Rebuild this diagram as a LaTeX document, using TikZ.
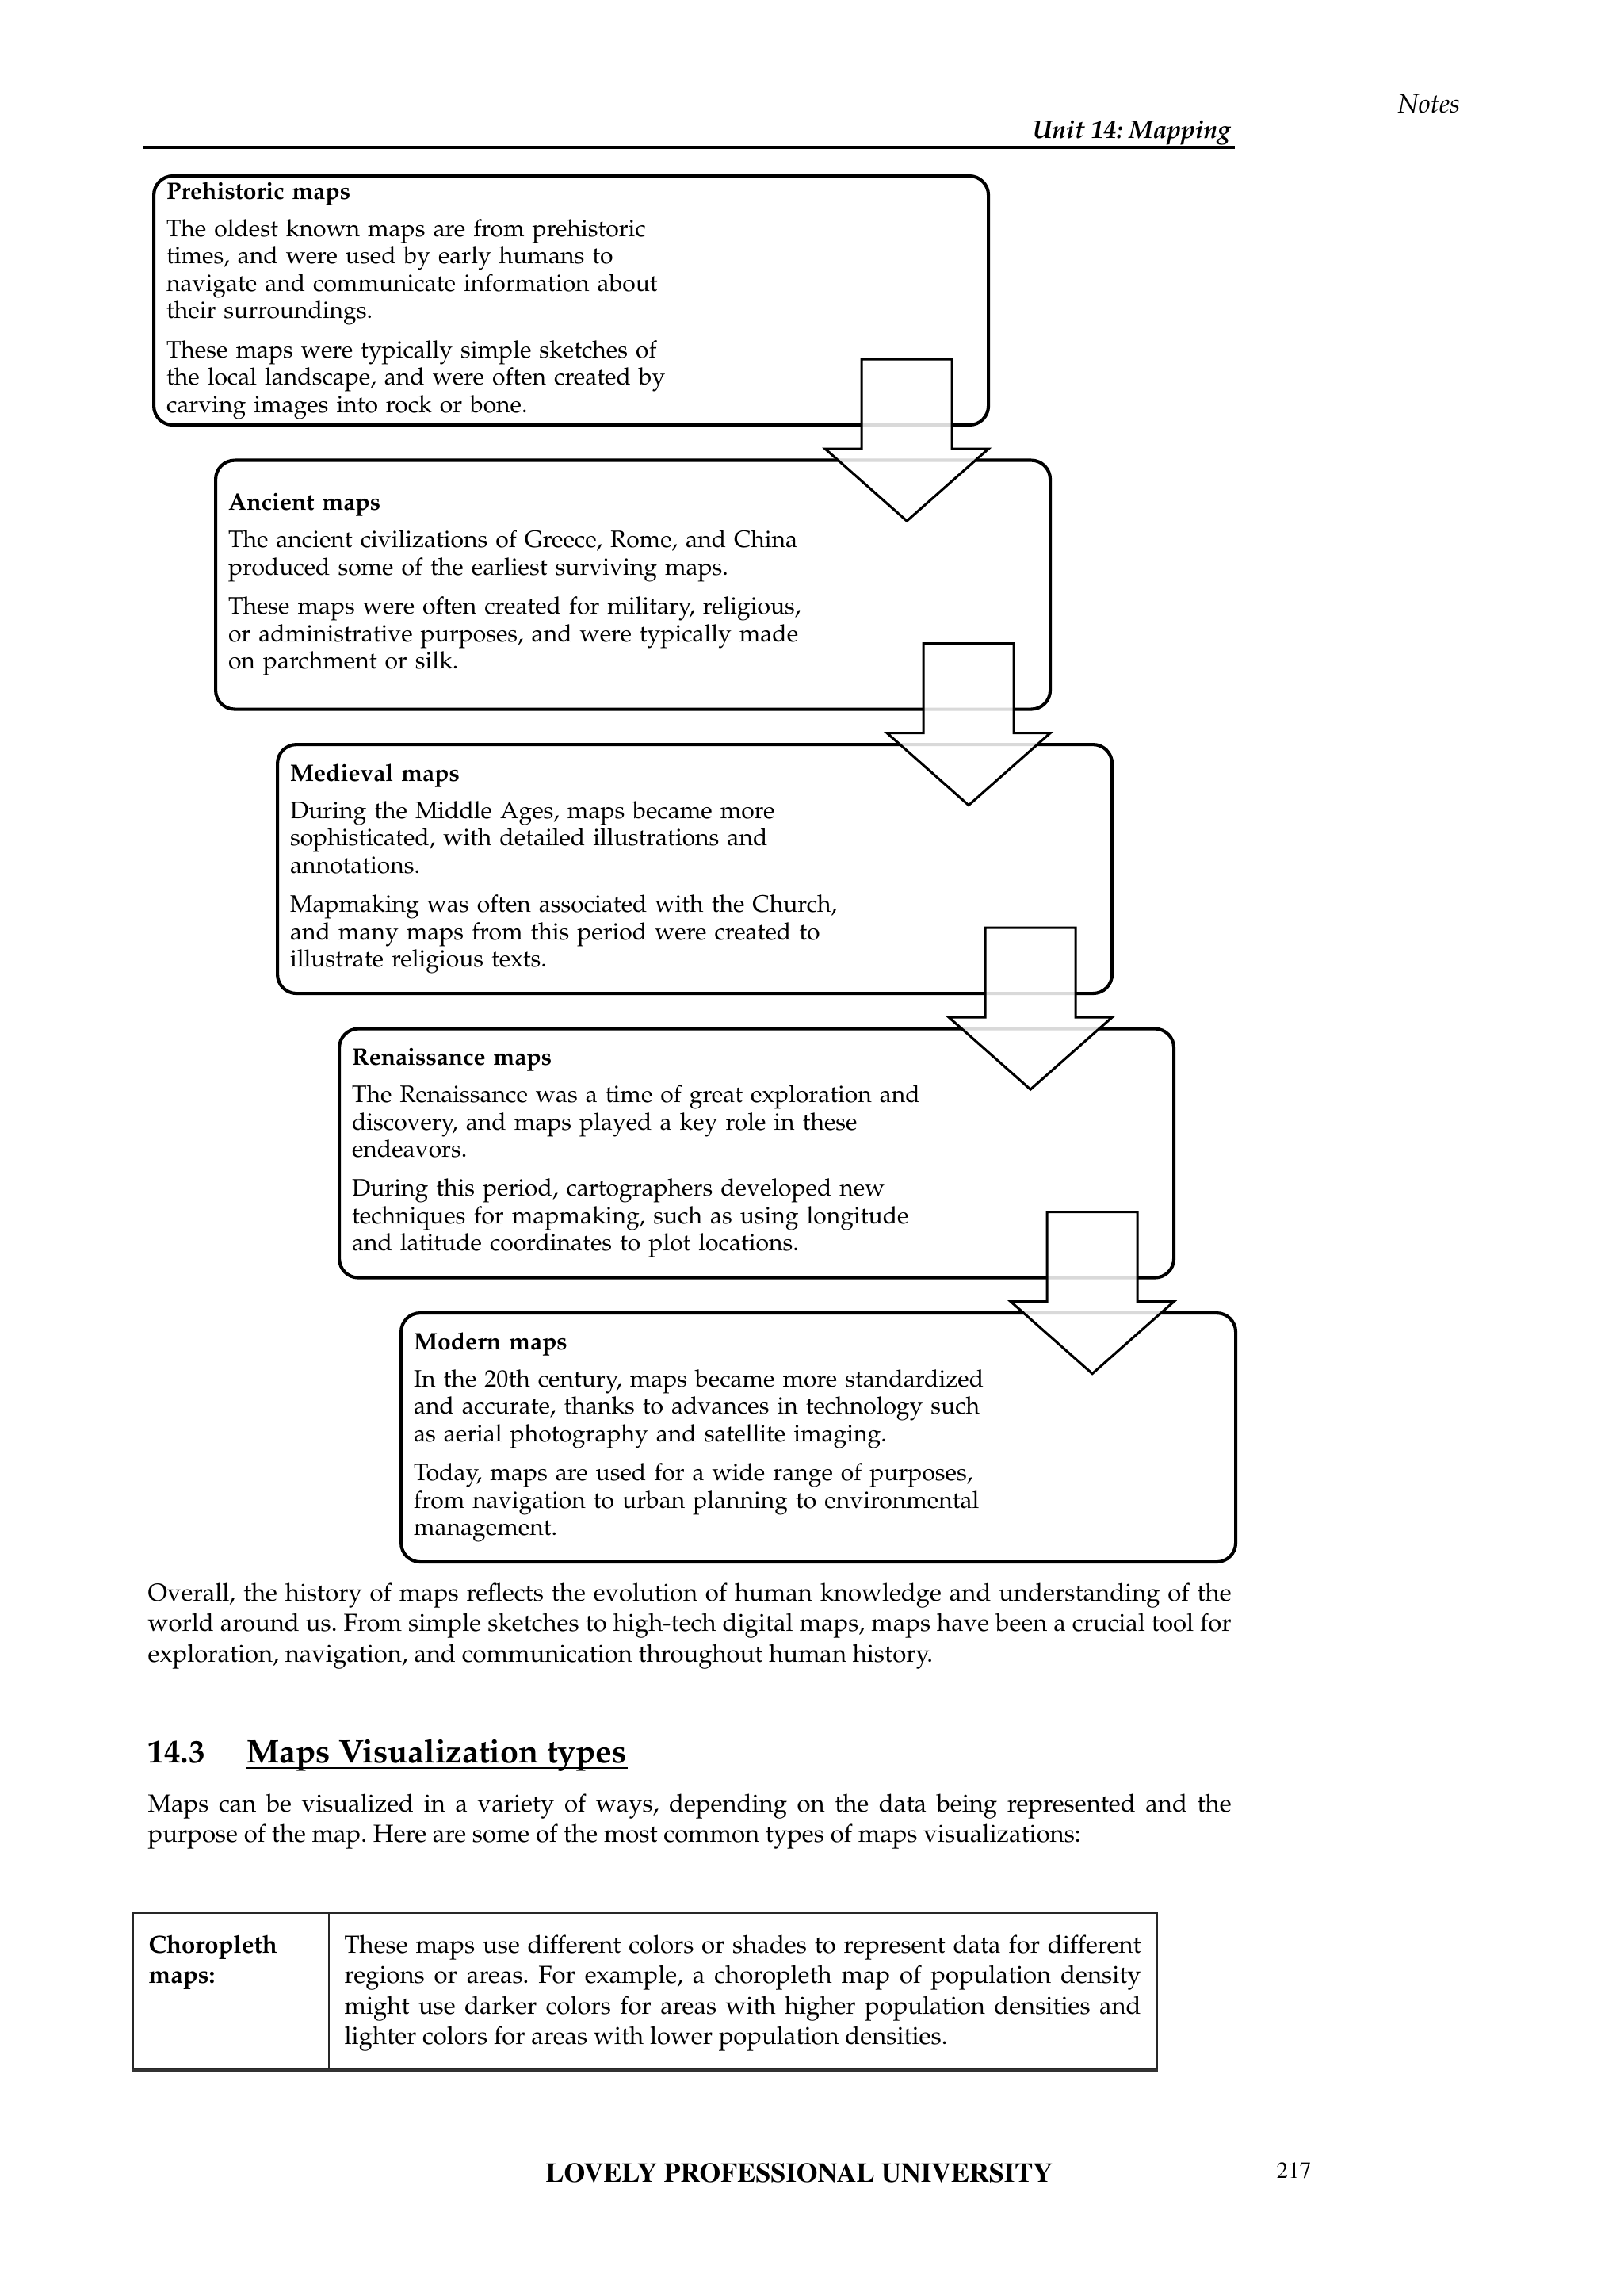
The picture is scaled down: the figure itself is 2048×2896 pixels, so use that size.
\documentclass[tikz,border=0pt]{standalone}
\usepackage[T1]{fontenc}
\usepackage{palatino}
\usetikzlibrary{calc}
\newdimen\unitpx
\unitpx=0.29068pt
\newcommand{\boxfont}{\fontsize{8.74}{10.03}\selectfont}
\newcommand{\bodyfont}{\fontsize{9.03}{11.3}\selectfont}
\newcommand{\timesfont}{\fontfamily{ptm}\selectfont}
\frenchspacing
\begin{document}
\begin{tikzpicture}[x=0.29068pt,y=-0.29068pt,
  mapbox/.style={draw,line width=1.2pt,rounded corners=7pt,anchor=north west,
    minimum width=1053\unitpx,minimum height=314\unitpx,text width=1021\unitpx,
    inner xsep=16\unitpx,inner ysep=0pt,align=left,font=\boxfont},
  blockarrow/.style={draw,line width=0.9pt,fill=white,fill opacity=0.85,line join=miter},
  txt/.style={inner sep=0pt,anchor=base west},
  para/.style={txt,text width=1367\unitpx,align=justify,font=\bodyfont},
  cell/.style={draw=black!85,line width=0.6pt,anchor=north west,inner sep=0pt}]
\useasboundingbox (0,0) rectangle (2048,2896);
\node[txt,anchor=base east,font=\fontsize{9.8}{11}\selectfont\itshape] (notes) at (1843,143) {Notes};
\node[txt,anchor=base east,font=\fontsize{9.3}{11}\selectfont\bfseries\itshape] (unit) at (1553,175) {Unit 14: Mapping};
\draw[line width=1pt] (181,186) -- (1558,186);
\node[mapbox] (prehist) at (192,220) {\textbf{Prehistoric maps}\\[3.6pt]
  The oldest known maps are from prehistoric\\
  times, and were used by early humans to\\
  navigate and communicate information about\\
  their surroundings.\\[4.3pt]
  These maps were typically simple sketches of\\
  the local landscape, and were often created by\\
  carving images into rock or bone.};
\node[mapbox] (ancient) at (270,578.5) {\textbf{Ancient maps}\\[3.6pt]
  The ancient civilizations of Greece, Rome, and China\\
  produced some of the earliest surviving maps.\\[4.3pt]
  These maps were often created for military, religious,\\
  or administrative purposes, and were typically made\\
  on parchment or silk.};
\node[mapbox] (medieval) at (348,937) {\textbf{Medieval maps}\\[3.6pt]
  During the Middle Ages, maps became more\\
  sophisticated, with detailed illustrations and\\
  annotations.\\[4.3pt]
  Mapmaking was often associated with the Church,\\
  and many maps from this period were created to\\
  illustrate religious texts.};
\node[mapbox] (renaiss) at (426,1295.5) {\textbf{Renaissance maps}\\[3.6pt]
  The Renaissance was a time of great exploration and\\
  discovery, and maps played a key role in these\\
  endeavors.\\[4.3pt]
  During this period, cartographers developed new\\
  techniques for mapmaking, such as using longitude\\
  and latitude coordinates to plot locations.};
\node[mapbox] (modern) at (504,1654) {\textbf{Modern maps}\\[3.6pt]
  In the 20th century, maps became more standardized\\
  and accurate, thanks to advances in technology such\\
  as aerial photography and satellite imaging.\\[4.3pt]
  Today, maps are used for a wide range of purposes,\\
  from navigation to urban planning to environmental\\
  management.};
\foreach \a in {prehist,ancient,medieval,renaiss}
  \draw[blockarrow] ($(\a.south east)+(-162,-85)$) -- ++(114,0) -- ++(0,113) -- ++(46,0)
    -- ++(-103,91) -- ++(-103,-91) -- ++(46,0) -- cycle;
\node[para] (overall) at (186,2019) {Overall, the history of maps reflects the evolution of human knowledge and understanding of the\linebreak
  world around us. From simple sketches to high-tech digital maps, maps have been a crucial tool for\linebreak
  exploration, navigation, and communication throughout human history.};
\node[txt,font=\fontsize{12}{14}\selectfont\bfseries] (secnum) at (186,2223) {14.3};
\node[txt,font=\fontsize{12}{14}\selectfont\bfseries] (sectitle) at (311,2223) {Maps Visualization types};
\draw[line width=0.6pt] ($(sectitle.base west)+(0,7)$) -- ($(sectitle.base east)+(0,7)$);
\node[para] (mapsvis) at (186,2285) {Maps can be visualized in a variety of ways, depending on the data being represented and the\linebreak
  purpose of the map. Here are some of the most common types of maps visualizations:};
\node[cell,minimum width=247\unitpx,minimum height=197\unitpx] (typecell) at (167,2412) {};
\node[cell,minimum width=1045\unitpx,minimum height=197\unitpx] (desccell) at (414,2412) {};
\draw[line width=0.9pt,black!80] (typecell.south west) -- (desccell.south east);
\node[txt,text width=220\unitpx,align=left,font=\fontsize{9.03}{11.2}\selectfont\bfseries] (typetext)
  at ($(typecell.north west)+(20,51)$) {Choropleth\\maps:};
\node[txt,text width=1005\unitpx,align=justify,font=\fontsize{9.03}{11.2}\selectfont] (desctext)
  at ($(desccell.north west)+(20,51)$) {These maps use different colors or shades to represent data for different\linebreak
  regions or areas. For example, a choropleth map of population density\linebreak
  might use darker colors for areas with higher population densities and\linebreak
  lighter colors for areas with lower population densities.};
\node[txt,font=\timesfont\fontsize{10}{12}\selectfont\bfseries] (lpu) at (688,2752) {LOVELY PROFESSIONAL UNIVERSITY};
\node[txt,font=\timesfont\fontsize{8.5}{10}\selectfont] (pagenum) at (1610,2747) {217};
\end{tikzpicture}
\end{document}
